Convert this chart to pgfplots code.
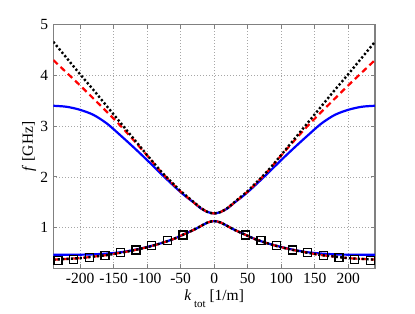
\documentclass[border=0pt]{standalone}
\usepackage{fontspec}
\setmainfont{Liberation Serif}
\usepackage{pgfplots}
\pgfplotsset{compat=1.18}
\definecolor{mblue}{RGB}{0,0,255}
\definecolor{mred}{RGB}{255,0,0}
\begin{document}
\fontsize{15pt}{17pt}\selectfont
\begin{tikzpicture}
\begin{axis}[
  scale only axis,
  width=321.7pt, height=243.8pt,
  xmin=-240, xmax=240, ymin=0.2, ymax=5,
  xtick={-200,-150,...,200},
  ytick={1,2,3,4,5},
  /pgf/number format/assume math mode=true,
  tick label style={font=\fontsize{15.5pt}{17pt}\selectfont},
  label style={font=\fontsize{15.5pt}{17pt}\selectfont},
  tick align=inside,
  major tick length=4pt,
  axis line style={gray, line width=1.2pt},
  tick style={gray, line width=0.8pt},
  grid=major,
  major grid style={gray!70, line width=0.6pt, dash pattern=on 0.7pt off 2.3pt},
  xlabel={\textit{k}\,\raisebox{-7pt}{\fontsize{11pt}{12pt}\selectfont tot} [1/m]},
  ylabel={\textit{f} [GHz]},
  xlabel style={yshift=4pt},
  ylabel style={yshift=-6pt},
  clip=true,
]
\coordinate (bl) at (rel axis cs:0,0);
% blue upper
\addplot[mblue, line width=2.2pt, smooth] coordinates {
(-240,3.40) (-220,3.38) (-200,3.32) (-180,3.22) (-160,3.05) (-140,2.82) (-120,2.58) (-100,2.33) (-80,2.07) (-60,1.82) (-50,1.70) (-40,1.59) (-30,1.49) (-20,1.38) (-10,1.31) (0,1.28)
(10,1.31) (20,1.38) (30,1.49) (40,1.59) (50,1.70) (60,1.82) (80,2.07) (100,2.33) (120,2.58) (140,2.82) (160,3.05) (180,3.22) (200,3.32) (220,3.38) (240,3.40)};
% blue lower
\addplot[mblue, line width=2.2pt, smooth] coordinates {
(-240,0.465) (-220,0.465) (-200,0.468) (-180,0.475) (-160,0.49) (-140,0.515) (-120,0.56) (-100,0.62) (-80,0.69) (-60,0.78) (-50,0.84) (-40,0.90) (-30,0.96) (-20,1.03) (-10,1.10) (0,1.13)
(10,1.10) (20,1.03) (30,0.96) (40,0.90) (50,0.84) (60,0.78) (80,0.69) (100,0.62) (120,0.56) (140,0.515) (160,0.49) (180,0.475) (200,0.468) (220,0.465) (240,0.465)};
% red upper
\addplot[mred, line width=2.2pt, dash pattern=on 6pt off 4pt, smooth] coordinates {
(-240,4.30) (-220,4.05) (-200,3.80) (-180,3.54) (-160,3.28) (-140,3.01) (-120,2.72) (-100,2.42) (-80,2.11) (-60,1.84) (-50,1.71) (-40,1.60) (-30,1.49) (-20,1.39) (-10,1.31) (0,1.28)
(10,1.31) (20,1.39) (30,1.49) (40,1.60) (50,1.71) (60,1.84) (80,2.11) (100,2.42) (120,2.72) (140,3.01) (160,3.28) (180,3.54) (200,3.80) (220,4.05) (240,4.30)};
% red lower
\addplot[mred, line width=2.2pt, dash pattern=on 6pt off 4pt, smooth] coordinates {
(-240,0.37) (-220,0.385) (-200,0.40) (-180,0.43) (-160,0.46) (-140,0.505) (-120,0.555) (-100,0.615) (-80,0.69) (-60,0.78) (-50,0.84) (-40,0.90) (-30,0.96) (-20,1.03) (-10,1.10) (0,1.13)
(10,1.10) (20,1.03) (30,0.96) (40,0.90) (50,0.84) (60,0.78) (80,0.69) (100,0.615) (120,0.555) (140,0.505) (160,0.46) (180,0.43) (200,0.40) (220,0.385) (240,0.37)};
% black upper
\addplot[black, line width=2.4pt, dash pattern=on 2.2pt off 2.2pt, smooth] coordinates {
(-240,4.66) (-220,4.34) (-200,4.02) (-180,3.71) (-160,3.39) (-140,3.07) (-120,2.75) (-100,2.43) (-80,2.12) (-60,1.85) (-50,1.72) (-40,1.61) (-30,1.50) (-20,1.39) (-10,1.31) (0,1.28)
(10,1.31) (20,1.39) (30,1.50) (40,1.61) (50,1.72) (60,1.85) (80,2.12) (100,2.43) (120,2.75) (140,3.07) (160,3.39) (180,3.71) (200,4.02) (220,4.34) (240,4.66)};
% black lower
\addplot[black, line width=2.4pt, dash pattern=on 2.2pt off 2.2pt, smooth] coordinates {
(-240,0.37) (-220,0.385) (-200,0.40) (-180,0.43) (-160,0.46) (-140,0.505) (-120,0.555) (-100,0.615) (-80,0.69) (-60,0.78) (-50,0.84) (-40,0.90) (-30,0.96) (-20,1.03) (-10,1.10) (0,1.13)
(10,1.10) (20,1.03) (30,0.96) (40,0.90) (50,0.84) (60,0.78) (80,0.69) (100,0.615) (120,0.555) (140,0.505) (160,0.46) (180,0.43) (200,0.40) (220,0.385) (240,0.37)};
% squares
\addplot[only marks, mark=square, mark size=4pt, mark options={black, line width=1.3pt}] coordinates {
(-233,0.355) (-209.7,0.38) (-186.4,0.417) (-163,0.455) (-139.8,0.507) (-116.5,0.56) (-93.2,0.643) (-69.9,0.742) (-46.6,0.856)
(46.6,0.856) (69.9,0.742) (93.2,0.643) (116.5,0.56) (139.8,0.507) (163,0.455) (186.4,0.417) (209.7,0.38) (233,0.355)};
\end{axis}
\path (bl) ++(-53.3pt,-43.7pt) rectangle ++(415pt,312pt);
\end{tikzpicture}
\end{document}
